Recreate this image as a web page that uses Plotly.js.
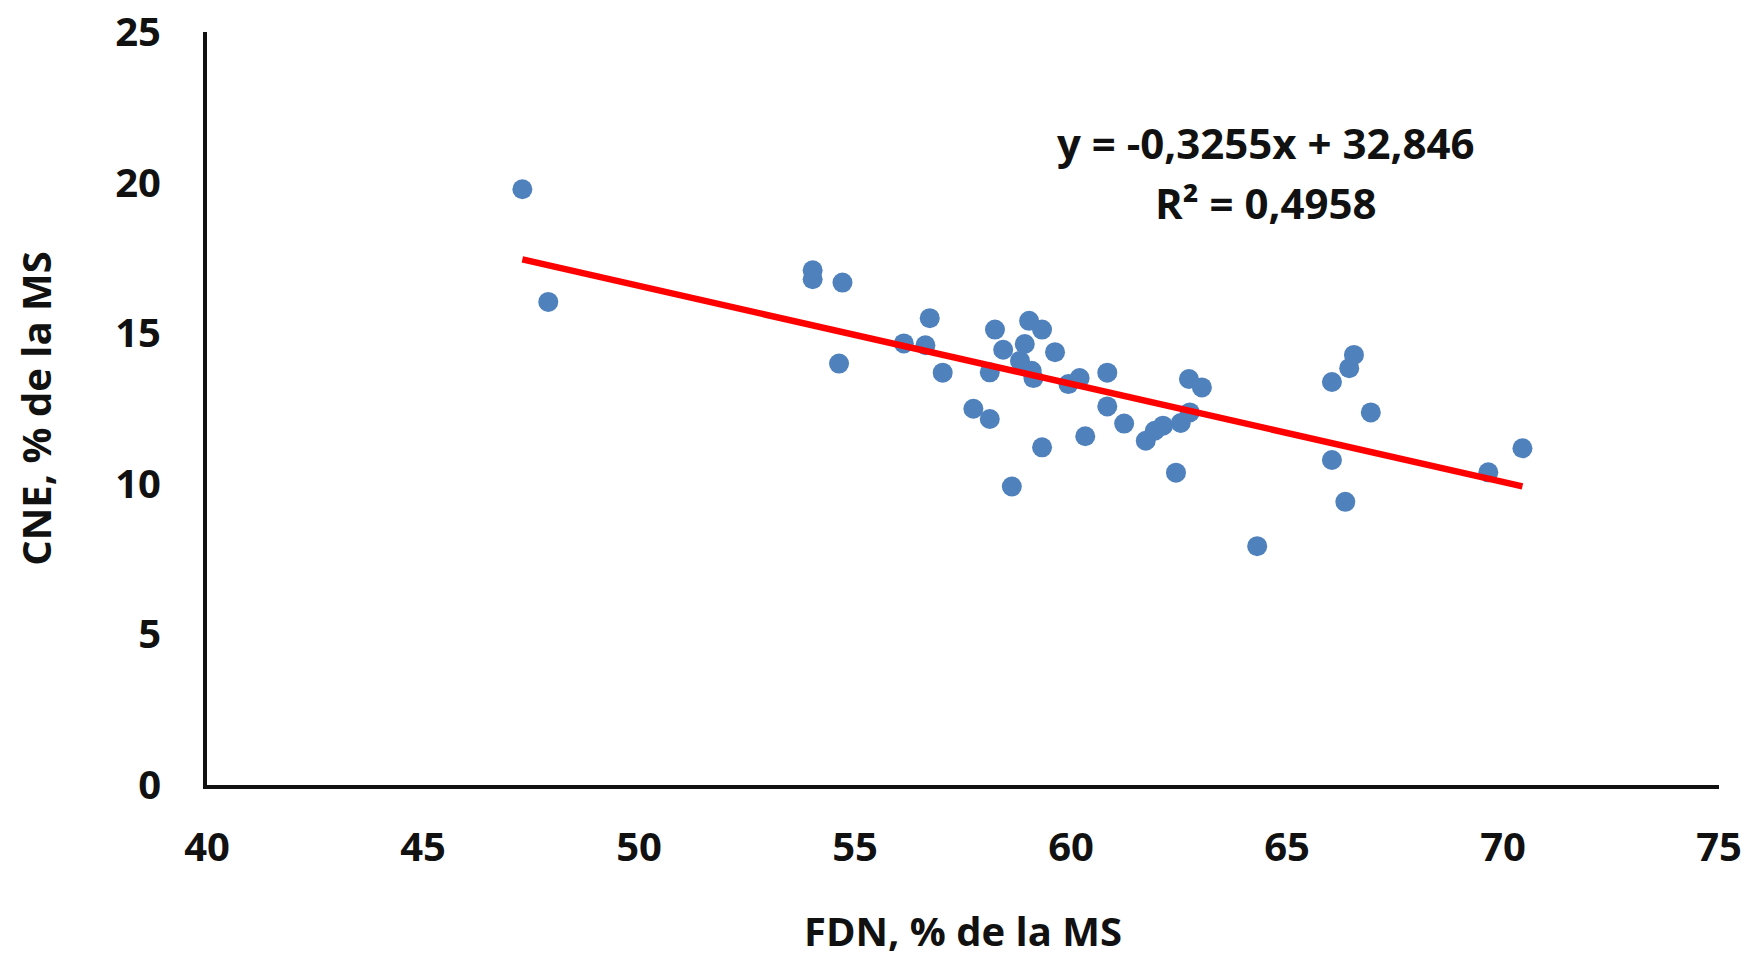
<!DOCTYPE html>
<html>
<head>
<meta charset="utf-8">
<script src="https://cdn.plot.ly/plotly-3.0.1.min.js"></script>
<style>
  html, body { margin: 0; padding: 0; background: #ffffff; }
  #chart { width: 1754px; height: 958px; }
</style>
</head>
<body>
<div id="chart"></div>
<script>
// FDN, % de la MS (x) and CNE, % de la MS (y)
const fdn = [47.30, 47.90, 54.02, 54.02, 54.71, 54.63, 56.13, 56.63, 56.73, 57.03,
             57.74, 58.12, 58.12, 58.24, 58.43, 58.63, 58.82, 58.93, 59.03, 59.09,
             59.13, 59.33, 59.33, 59.63, 59.94, 60.20, 60.33, 60.84, 60.84, 61.23,
             61.73, 61.94, 62.13, 62.43, 62.54, 62.73, 62.75, 63.03, 64.31, 66.04,
             66.04, 66.35, 66.44, 66.55, 66.94, 69.66, 70.45];
const cne = [19.78, 16.04, 17.09, 16.79, 16.68, 13.99, 14.66, 14.60, 15.50, 13.69,
             12.49, 12.15, 13.70, 15.12, 14.45, 9.91, 14.08, 14.64, 15.41, 13.75,
             13.51, 15.12, 11.21, 14.37, 13.31, 13.51, 11.58, 13.69, 12.57, 12.00,
             11.43, 11.76, 11.93, 10.37, 12.02, 13.48, 12.37, 13.20, 7.93, 13.38,
             10.79, 9.40, 13.84, 14.28, 12.37, 10.38, 11.18];

// Linear trend from the reported equation
const slope = -0.3255;
const intercept = 32.846;
const equationText = "y = -0,3255x + 32,846";
const r2Text = "R² = 0,4958";

const xTicks = [40, 45, 50, 55, 60, 65, 70, 75];
const yTicks = [0, 5, 10, 15, 20, 25];
const xTitle = "FDN, % de la MS";
const yTitle = "CNE, % de la MS";

const xMin = Math.min(...fdn), xMax = Math.max(...fdn);
const trendX = [xMin, xMax];
const trendY = trendX.map(v => slope * v + intercept);

const FONT = "'Open Sans', sans-serif";
const textFont = { family: FONT, size: 40, color: "#111111", weight: "bold" };
const annFont = { family: FONT, size: 42, color: "#111111", weight: "bold" };

const traces = [
  {
    x: fdn, y: cne, type: "scatter", mode: "markers",
    marker: { color: "#4F81BD", size: 20, line: { width: 0 } },
    hoverinfo: "x+y", showlegend: false
  },
  {
    x: trendX, y: trendY, type: "scatter", mode: "lines",
    line: { color: "#FF0000", width: 6.5 },
    hoverinfo: "skip", showlegend: false
  }
];

const layout = {
  width: 1754, height: 958,
  paper_bgcolor: "#ffffff", plot_bgcolor: "#ffffff",
  margin: { l: 207, r: 35, t: 32, b: 173 },
  font: textFont,
  showlegend: false,
  xaxis: {
    range: [40, 75], tickvals: xTicks, ticktext: xTicks.map(String),
    showgrid: false, zeroline: false,
    showline: true, linecolor: "#111111", linewidth: 4,
    ticks: "", ticklabelstandoff: 24,
    tickfont: textFont,
    title: { text: xTitle, standoff: 49, font: textFont }
  },
  yaxis: {
    range: [0, 25], tickvals: yTicks, ticktext: yTicks.map(String),
    showgrid: false, zeroline: false,
    showline: true, linecolor: "#111111", linewidth: 4,
    ticks: "", ticklabelstandoff: 34,
    tickfont: textFont,
    title: { text: yTitle, standoff: 52, font: textFont }
  },
  annotations: [
    { x: 64.51, y: 21.32, xref: "x", yref: "y", text: equationText, showarrow: false,
      xanchor: "center", yanchor: "middle", font: annFont },
    { x: 64.51, y: 19.33, xref: "x", yref: "y", text: r2Text, showarrow: false,
      xanchor: "center", yanchor: "middle", font: annFont }
  ]
};

Plotly.newPlot("chart", traces, layout, { displayModeBar: false, staticPlot: true });
</script>
</body>
</html>
